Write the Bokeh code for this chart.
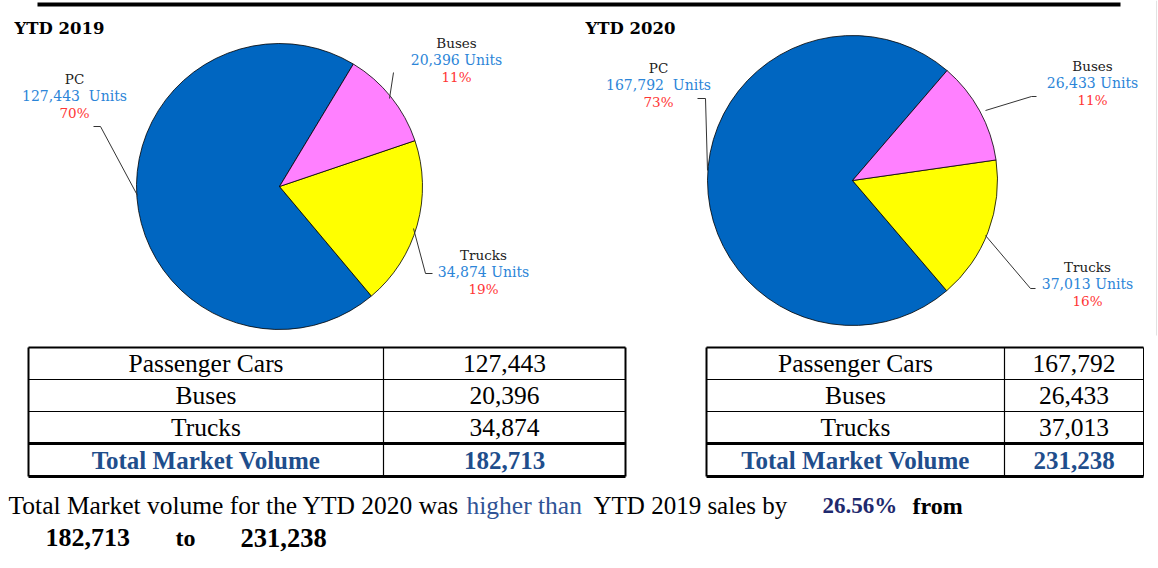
from math import radians, pi
from bokeh.plotting import figure
from bokeh.models import Range1d
from bokeh.core.properties import value
from bokeh.embed import file_html
from bokeh.resources import INLINE

# ---------------- data ----------------
categories = ["PC", "Buses", "Trucks"]
table_labels = ["Passenger Cars", "Buses", "Trucks"]
units_2019 = [127443, 20396, 34874]
units_2020 = [167792, 26433, 37013]
years = ["YTD 2019", "YTD 2020"]
slice_colors = ["#0066C1", "#FF80FF", "#FFFF00"]

total_2019 = sum(units_2019)
total_2020 = sum(units_2020)
growth = (total_2020 - total_2019) / total_2019 * 100

W, H = 1158, 568
SERIF_L = "DejaVu Serif"
SERIF_T = "Liberation Serif"
LBL_BLUE = "#2B85D8"
LBL_RED = "#FF3535"
TOT_BLUE = "#1F4E8C"

p = figure(width=W, height=H, x_range=Range1d(0, W), y_range=Range1d(0, H),
           output_backend="svg", toolbar_location=None,
           x_axis_location=None, y_axis_location=None, min_border=0)
p.grid.visible = False
p.outline_line_color = None
p.background_fill_color = "white"
p.border_fill_color = "white"


def Y(y):
    return H - y


def txt(x, y, s, size, color="black", font=SERIF_T, style="normal", align="center"):
    p.text(x=[x], y=[Y(y)], text=[s], text_font=value(font), text_font_size=size,
           text_color=color, text_font_style=style, text_align=align,
           text_baseline="middle")


def fmt(v):
    return f"{v:,}"


# top rule and page edge
p.line([37, 1120], [Y(4), Y(4)], line_color="black", line_width=4)
p.line([1156, 1156], [Y(0), Y(335)], line_color="#E2E2E2", line_width=1)


def draw_pie(cx, cy, r, values, start_deg):
    total = sum(values)
    a = radians(start_deg)
    for i in [0, 2, 1]:  # anticlockwise: PC, Trucks, Buses
        span = values[i] / total * 2 * pi
        p.wedge(x=[cx], y=[Y(cy)], radius=r, start_angle=a, end_angle=a + span,
                fill_color=slice_colors[i], line_color="black", line_width=0.8)
        a += span


def pie_labels(values, positions, unit_sep):
    total = sum(values)
    for i, (lx, ly) in enumerate(positions):
        txt(lx, ly, categories[i], "13.5px", "#222222", SERIF_L)
        txt(lx, ly + 17, fmt(values[i]) + unit_sep[i] + "Units", "14px", LBL_BLUE, SERIF_L)
        txt(lx, ly + 34, f"{round(values[i] / total * 100)}%", "13.5px", LBL_RED, SERIF_L)


SEP2 = "\u00a0 "

# ---- left pie ----
txt(14, 28, years[0], "16.5px", "black", SERIF_L, "bold", "left")
draw_pie(279, 186, 143, units_2019, 58.9)
pie_labels(units_2019, [(74, 78), (456, 42), (483, 254)], [SEP2, " ", " "])
p.line([93, 100, 137], [Y(126), Y(126), Y(195)], line_color="#333333", line_width=1)
p.line([393, 389], [Y(72), Y(98)], line_color="#333333", line_width=1)
p.line([413, 425, 432], [Y(228), Y(273), Y(273)], line_color="#333333", line_width=1)

# ---- right pie ----
txt(585, 28, years[1], "16.5px", "black", SERIF_L, "bold", "left")
draw_pie(852, 180, 145, units_2020, 49.3)
pie_labels(units_2020, [(658, 67), (1092, 65), (1087, 266)], [SEP2, " ", " "])
p.line([697, 705, 707], [Y(98), Y(98), Y(170)], line_color="#333333", line_width=1)
p.line([1036, 1031, 985], [Y(96), Y(96), Y(110)], line_color="#333333", line_width=1)
p.line([985, 1030, 1035], [Y(235), Y(288), Y(288)], line_color="#333333", line_width=1)


# ---- tables ----
def draw_table(x0, xm, x1, values, total, right_w=2):
    rows = [347, 379, 411, 443, 476]
    p.line([x0, x1], [Y(rows[0]), Y(rows[0])], line_color="black", line_width=2)
    p.line([x0, x1], [Y(rows[1]), Y(rows[1])], line_color="black", line_width=1.2)
    p.line([x0, x1], [Y(rows[2]), Y(rows[2])], line_color="black", line_width=1.2)
    p.line([x0, x1], [Y(rows[3]), Y(rows[3])], line_color="black", line_width=3)
    p.line([x0, x1], [Y(rows[4]), Y(rows[4])], line_color="black", line_width=3)
    p.line([x0, x0], [Y(rows[0]), Y(rows[4])], line_color="black", line_width=2)
    p.line([xm, xm], [Y(rows[0]), Y(rows[4])], line_color="black", line_width=1.2)
    p.line([x1, x1], [Y(rows[0]), Y(rows[4])], line_color="black", line_width=right_w)
    c1 = (x0 + xm) / 2
    c2 = (xm + x1) / 2
    for i, lab in enumerate(table_labels):
        yc = (rows[i] + rows[i + 1]) / 2
        txt(c1, yc, lab, "25.5px", "black")
        txt(c2, yc, fmt(values[i]), "25.5px", "black")
    yc = (rows[3] + rows[4]) / 2
    txt(c1, yc, "Total Market Volume", "25px", TOT_BLUE, style="bold")
    txt(c2, yc, fmt(total), "25px", TOT_BLUE, style="bold")


draw_table(28, 383, 625, units_2019, total_2019)
draw_table(706, 1004, 1143, units_2020, total_2020, right_w=1)

# ---- bottom summary ----
txt(8, 505, "Total Market volume for the " + years[1] + " was", "25.5px", "black", align="left")
txt(466, 505, "higher than", "25.5px", "#2F5496", align="left")
txt(593, 505, years[0] + " sales by", "25px", "black", align="left")
txt(822, 505, f"{growth:.2f}%", "23px", "#1F2A6E", style="bold", align="left")
txt(912, 505, "from", "24px", "black", style="bold", align="left")
txt(45, 537, fmt(total_2019), "26px", "black", style="bold", align="left")
txt(175, 537, "to", "24px", "black", style="bold", align="left")
txt(240, 537, fmt(total_2020), "26.5px", "black", style="bold", align="left")

open("out.html", "w").write(file_html(p, INLINE))
